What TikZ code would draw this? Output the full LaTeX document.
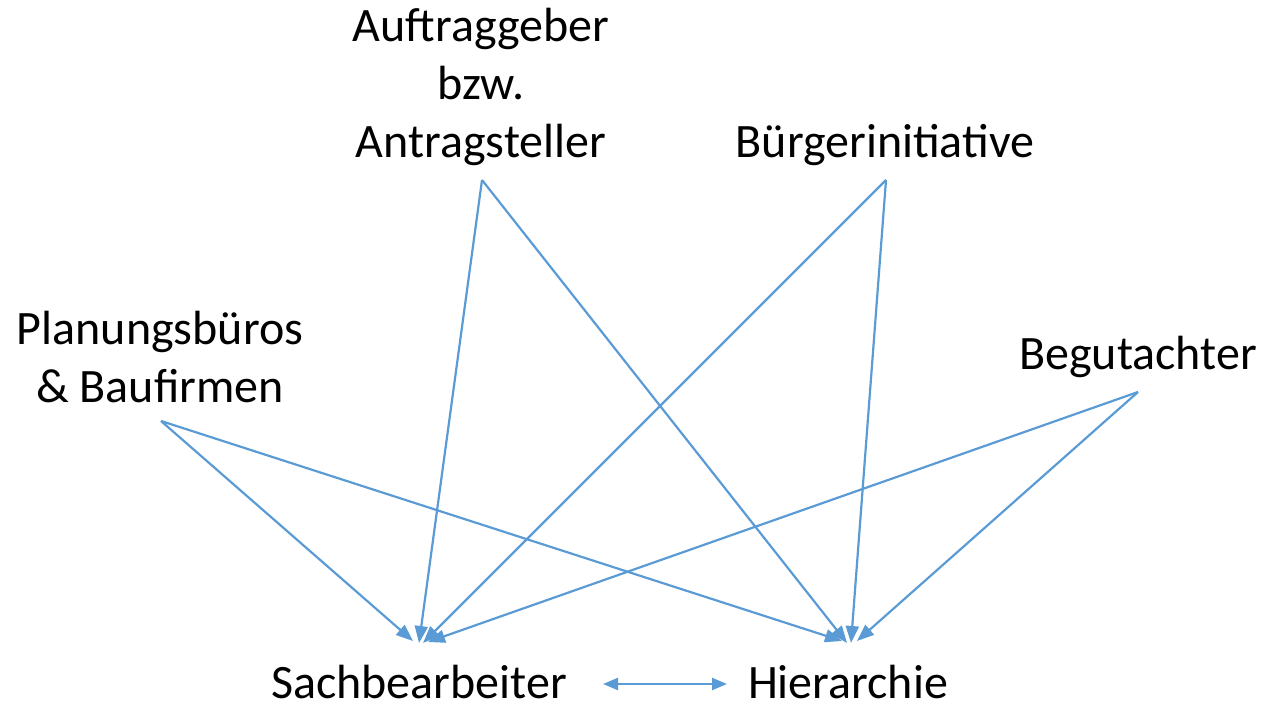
\documentclass[tikz,border=0pt]{standalone}
\usepackage{fontspec}
\setmainfont{Carlito}
\usetikzlibrary{arrows.meta}
\definecolor{linkblue}{RGB}{91,155,213}
\tikzset{
  label/.style={inner sep=0pt, font=\fontsize{48}{57.6}\selectfont},
  actor/.style={label, align=center},
  link/.style={draw=linkblue, line width=2.2pt, -{Triangle[length=17pt,width=13pt]}},
  both/.style={draw=linkblue, line width=2.2pt, {Triangle[length=15pt,width=12pt]}-{Triangle[length=15pt,width=12pt]}}
}
\begin{document}
\begin{tikzpicture}[x=1pt,y=1pt]
\useasboundingbox (0,0) rectangle (1281,704);

% actors
\node[actor] (auf)  at (481,617) {Auftraggeber\\bzw.\\Antragsteller};
\node[actor] (bue)  at (885,559) {Bürgerinitiative};
\node[actor] (plan) at (160,347) {Planungsbüros\\\& Baufirmen};
\node[actor] (beg)  at (1138,347) {Begutachter};
\node[label, anchor=base] (sach) at (419,6) {Sachbearbeiter};
\node[label, anchor=base] (hier) at (848,6) {Hierarchie};

% where the links leave the actors
\coordinate (aufS)  at (482,524);
\coordinate (bueS)  at (886,524);
\coordinate (planS) at (161,283);
\coordinate (begS)  at (1138,312);

% where the links reach the two targets
\coordinate (sachP) at (413,63);
\coordinate (sachA) at (419,61);
\coordinate (sachB) at (423,61);
\coordinate (sachG) at (428,62);
\coordinate (hierP) at (842,63);
\coordinate (hierA) at (847,61);
\coordinate (hierB) at (851,61);
\coordinate (hierG) at (857,63);

\draw[link] (planS) -- (sachP);
\draw[link] (planS) -- (hierP);
\draw[link] (aufS)  -- (sachA);
\draw[link] (aufS)  -- (hierA);
\draw[link] (bueS)  -- (sachB);
\draw[link] (bueS)  -- (hierB);
\draw[link] (begS)  -- (sachG);
\draw[link] (begS)  -- (hierG);

% exchange between the two targets
\coordinate (exL) at (603,20);
\coordinate (exR) at (727,20);
\draw[both] (exL) -- (exR);
\end{tikzpicture}
\end{document}
